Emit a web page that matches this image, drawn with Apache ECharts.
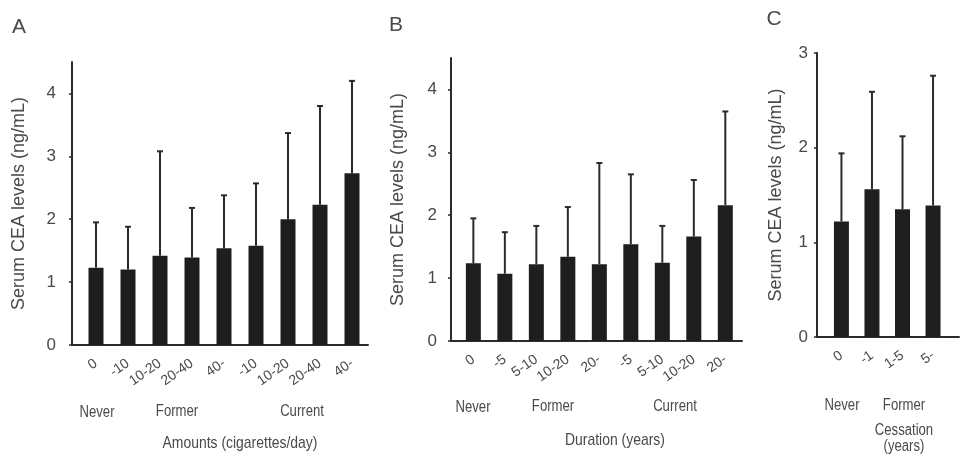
<!DOCTYPE html>
<html><head><meta charset="utf-8">
<script src="https://cdn.jsdelivr.net/npm/echarts@6/dist/echarts.min.js"></script>
<style>html,body{margin:0;padding:0;background:#fff}#c{width:961px;height:458px}</style>
</head><body><div id="c"></div>
<script>
// ---- data ----
const catsA = ['0', '-10', '10-20', '20-40', '40-', '-10', '10-20', '20-40', '40-'];
const meanA = [1.23, 1.20, 1.42, 1.39, 1.54, 1.58, 2.00, 2.23, 2.73];
const upperA = [1.95, 1.88, 3.08, 2.18, 2.38, 2.57, 3.37, 3.80, 4.20];
const catsB = ['0', '-5', '5-10', '10-20', '20-', '-5', '5-10', '10-20', '20-'];
const meanB = [1.235, 1.07, 1.22, 1.34, 1.22, 1.54, 1.245, 1.66, 2.16];
const upperB = [1.95, 1.73, 1.83, 2.13, 2.83, 2.65, 1.83, 2.56, 3.65];
const catsC = ['0', '-1', '1-5', '5-'];
const meanC = [1.22, 1.56, 1.35, 1.39];
const upperC = [1.94, 2.59, 2.12, 2.76];
const yTicksAB = [0, 1, 2, 3, 4];
const yTicksC = [0, 1, 2, 3];
const yName = 'Serum CEA levels (ng/mL)';

// ---- styling ----
const AX = '#2b2b2b';
const TXT = '#4a4a4a';
const BAR = '#1e1e1e';
const SANS = "'Liberation Sans', Arial, sans-serif";

function idxList(n) { const a = []; for (let i = 0; i < n; i++) a.push(i); return a; }

function xAxisFor(idx, cats, min, max) {
  return {
    type: 'value', gridIndex: idx, min: min, max: max,
    axisLine: { show: true, onZero: false, lineStyle: { color: AX, width: 2 } },
    axisTick: { show: false },
    splitLine: { show: false },
    axisLabel: {
      customValues: idxList(cats.length),
      formatter: v => cats[Math.round(v)],
      rotate: 35, margin: 17,
      color: TXT, fontSize: 14, fontFamily: SANS
    }
  };
}
function yAxisFor(idx, max, ticks, margin, gap) {
  return {
    type: 'value', gridIndex: idx, min: 0, max: max,
    name: yName, nameLocation: 'middle', nameGap: gap,
    nameTextStyle: { color: TXT, fontSize: 18, fontFamily: SANS },
    axisLine: { show: true, onZero: false, lineStyle: { color: AX, width: 2 } },
    axisTick: { show: true, length: 3, customValues: ticks, lineStyle: { color: AX, width: 1.5 } },
    splitLine: { show: false },
    axisLabel: { customValues: ticks, margin: margin, color: TXT, fontSize: 17, fontFamily: SANS }
  };
}
function errItem(params, api) {
  const x = api.value(0);
  const lo = api.coord([x, api.value(1)]);
  const hi = api.coord([x, api.value(2)]);
  const cw = 3;
  return {
    type: 'group', children: [
      { type: 'line', shape: { x1: lo[0], y1: lo[1], x2: hi[0], y2: hi[1] }, style: { stroke: AX, lineWidth: 2 } },
      { type: 'line', shape: { x1: hi[0] - cw, y1: hi[1], x2: hi[0] + cw, y2: hi[1] }, style: { stroke: AX, lineWidth: 2 } }
    ]
  };
}
function barSeries(idx, means) {
  return {
    type: 'bar', xAxisIndex: idx, yAxisIndex: idx, barWidth: 15,
    itemStyle: { color: BAR }, silent: true,
    data: means.map((v, i) => [i, v])
  };
}
function errSeries(idx, means, uppers) {
  return {
    type: 'custom', xAxisIndex: idx, yAxisIndex: idx, renderItem: errItem, silent: true,
    encode: { x: 0, y: [1, 2] }, z: 1,
    data: uppers.map((u, i) => [i, means[i], u])
  };
}
// horizontally compressed text (the reference figure uses a condensed face)
function txt(x, y, s, size, sx) {
  return {
    type: 'text', x: x, y: y, scaleX: sx == null ? 0.82 : sx,
    style: { text: s, fill: TXT, font: size + 'px ' + SANS, align: 'center', verticalAlign: 'middle' }
  };
}

const chart = echarts.init(document.getElementById('c'), null, { renderer: 'canvas' });
chart.setOption({
  animation: false,
  backgroundColor: '#fff',
  grid: [
    { left: 72, top: 62, width: 296, height: 283 },
    { left: 451, top: 58, width: 291, height: 283 },
    { left: 817, top: 53, width: 142, height: 284 }
  ],
  xAxis: [
    xAxisFor(0, catsA, -0.75, 8.5),
    xAxisFor(1, catsB, -0.71, 8.53),
    xAxisFor(2, catsC, -0.8, 3.85)
  ],
  yAxis: [
    yAxisFor(0, 4.5, yTicksAB, 16, 44),
    yAxisFor(1, 4.5, yTicksAB, 14, 44),
    yAxisFor(2, 3, yTicksC, 9, 32)
  ],
  series: [
    barSeries(0, meanA), errSeries(0, meanA, upperA),
    barSeries(1, meanB), errSeries(1, meanB, upperB),
    barSeries(2, meanC), errSeries(2, meanC, upperC)
  ],
  graphic: [
    txt(19, 27, 'A', 21, 1),
    txt(396, 25, 'B', 21, 1),
    txt(774, 19, 'C', 21, 1),
    txt(97, 413, 'Never', 16), txt(177, 412, 'Former', 16), txt(302, 412, 'Current', 16),
    txt(240, 443, 'Amounts (cigarettes/day)', 17),
    txt(473, 408, 'Never', 16), txt(553, 407, 'Former', 16), txt(675, 407, 'Current', 16),
    txt(615, 440, 'Duration (years)', 17),
    txt(842, 406, 'Never', 16), txt(904, 406, 'Former', 16),
    txt(904, 431, 'Cessation', 16), txt(904, 447, '(years)', 16)
  ]
});
</script></body></html>
